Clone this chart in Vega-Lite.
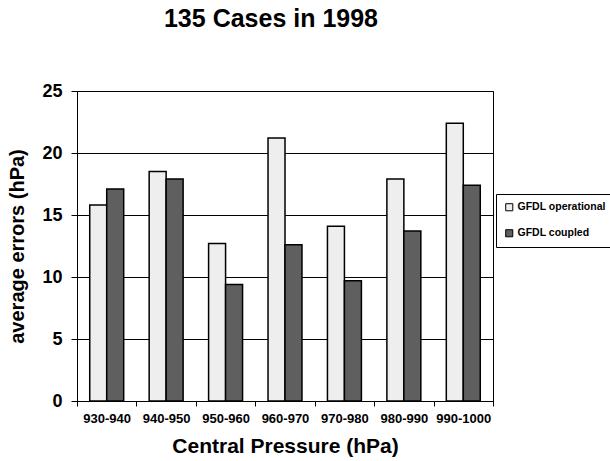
{
  "$schema": "https://vega.github.io/schema/vega-lite/v6.json",
  "autosize": {"type": "none"},
  "padding": {"left": 77, "top": 91, "right": 117, "bottom": 60},
  "width": 416,
  "height": 310,
  "background": "white",
  "title": {
    "text": "135 Cases in 1998",
    "font": "Liberation Sans",
    "fontSize": 25,
    "fontWeight": "bold",
    "color": "black",
    "anchor": "middle",
    "dx": -14,
    "offset": 50
  },
  "data": {
    "values": [
      {"cat": "930-940", "series": "GFDL operational", "value": 15.8},
      {"cat": "930-940", "series": "GFDL coupled", "value": 17.1},
      {"cat": "940-950", "series": "GFDL operational", "value": 18.5},
      {"cat": "940-950", "series": "GFDL coupled", "value": 17.9},
      {"cat": "950-960", "series": "GFDL operational", "value": 12.7},
      {"cat": "950-960", "series": "GFDL coupled", "value": 9.4},
      {"cat": "960-970", "series": "GFDL operational", "value": 21.2},
      {"cat": "960-970", "series": "GFDL coupled", "value": 12.6},
      {"cat": "970-980", "series": "GFDL operational", "value": 14.1},
      {"cat": "970-980", "series": "GFDL coupled", "value": 9.7},
      {"cat": "980-990", "series": "GFDL operational", "value": 17.9},
      {"cat": "980-990", "series": "GFDL coupled", "value": 13.7},
      {"cat": "990-1000", "series": "GFDL operational", "value": 22.4},
      {"cat": "990-1000", "series": "GFDL coupled", "value": 17.4}
    ]
  },
  "config": {
    "view": {"stroke": "black", "strokeWidth": 1},
    "axis": {
      "labelFont": "Liberation Sans",
      "titleFont": "Liberation Sans",
      "labelColor": "black",
      "titleColor": "black",
      "labelFontWeight": "bold",
      "titleFontWeight": "bold",
      "domainColor": "black",
      "tickColor": "black",
      "gridColor": "black",
      "gridOpacity": 1,
      "domainWidth": 1,
      "tickWidth": 1
    }
  },
  "mark": {"type": "bar", "stroke": "black", "strokeWidth": 1.5},
  "encoding": {
    "x": {
      "field": "cat",
      "type": "nominal",
      "sort": null,
      "scale": {"paddingInner": 0, "paddingOuter": 0},
      "axis": {
        "title": "Central Pressure (hPa)",
        "titleFontSize": 21,
        "titlePadding": 10,
        "labelFontSize": 13,
        "labelAngle": 0,
        "labelPadding": 6,
        "tickSize": 5,
        "tickBand": "extent",
        "grid": false
      }
    },
    "xOffset": {
      "field": "series",
      "type": "nominal",
      "sort": ["GFDL operational", "GFDL coupled"],
      "scale": {"paddingInner": 0, "paddingOuter": 0.75}
    },
    "y": {
      "field": "value",
      "type": "quantitative",
      "scale": {"domain": [0, 25]},
      "axis": {
        "title": "average errors (hPa)",
        "titleFontSize": 20,
        "titlePadding": 14,
        "labelFontSize": 18,
        "labelPadding": 9,
        "tickSize": 6,
        "values": [0, 5, 10, 15, 20, 25],
        "grid": true
      }
    },
    "color": {
      "field": "series",
      "type": "nominal",
      "scale": {
        "domain": ["GFDL operational", "GFDL coupled"],
        "range": ["#eeeeee", "#5f5f5f"]
      },
      "legend": {
        "title": null,
        "orient": "none",
        "legendX": 419,
        "legendY": 103,
        "direction": "vertical",
        "fillColor": "white",
        "strokeColor": "black",
        "padding": 8,
        "rowPadding": 14,
        "symbolType": "square",
        "symbolSize": 50,
        "symbolStrokeColor": "black",
        "symbolStrokeWidth": 1,
        "labelFont": "Liberation Sans",
        "labelFontWeight": "bold",
        "labelFontSize": 10.5,
        "labelColor": "black",
        "labelOffset": 3
      }
    }
  }
}
